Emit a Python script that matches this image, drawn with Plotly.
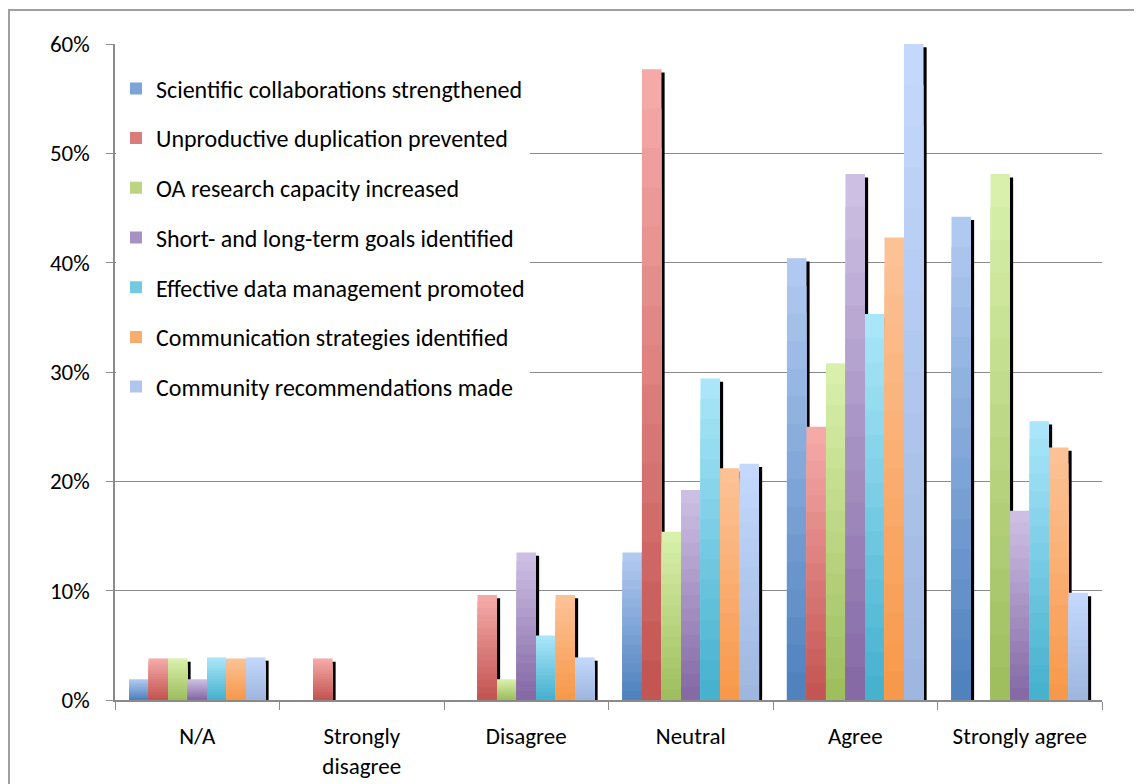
import plotly.graph_objects as go

categories = ["N/A", "Strongly disagree", "Disagree", "Neutral", "Agree", "Strongly agree"]
tick_labels = ["N/A", "Strongly<br>disagree", "Disagree", "Neutral", "Agree", "Strongly agree"]

series_names = [
    "Scientific collaborations strengthened",
    "Unproductive duplication prevented",
    "OA research capacity increased",
    "Short- and long-term goals identified",
    "Effective data management promoted",
    "Communication strategies identified",
    "Community recommendations made",
]

scientific = [1.9, 0, 0, 13.5, 40.4, 44.2]
unproductive = [3.8, 3.8, 9.6, 57.7, 25.0, 0]
oa_capacity = [3.8, 0, 1.9, 15.4, 30.8, 48.1]
goals = [1.9, 0, 13.5, 19.2, 48.1, 17.3]
data_mgmt = [3.9, 0, 5.9, 29.4, 35.3, 25.5]
communication = [3.8, 0, 9.6, 21.2, 42.3, 23.1]
community = [3.9, 0, 3.9, 21.6, 60.0, 9.8]

series_values = [scientific, unproductive, oa_capacity, goals, data_mgmt, communication, community]

# (top colour, bottom colour) for the vertical gradient of each series
top_colors = ["#b0c9f0", "#f5aaa8", "#d8f0ab", "#cdbfe3", "#a9e6f9", "#fcc296", "#c3d8fc"]
bottom_colors = ["#4a7ebb", "#c0504d", "#9bbb59", "#8064a2", "#40aecb", "#f79646", "#9db5de"]

FONT = "Carlito, Lato, sans-serif"
N_STEPS = 16
GROUP = 0.83
W = GROUP / len(series_names)
SHADOW_DX = 0.019
SHADOW_DY = 0.3


def hex2rgb(h):
    h = h.lstrip("#")
    return tuple(int(h[i:i + 2], 16) for i in (0, 2, 4))


def mix(c1, c2, t):
    a, b = hex2rgb(c1), hex2rgb(c2)
    return "rgb(%d,%d,%d)" % tuple(round(a[i] + (b[i] - a[i]) * t) for i in range(3))


fig = go.Figure()

# shadows first (behind all bars)
for j, vals in enumerate(series_values):
    off = -GROUP / 2 + j * W
    fig.add_trace(go.Bar(
        x=categories,
        y=[max(v - SHADOW_DY, 0) if v > 0 else 0 for v in vals],
        offset=off + SHADOW_DX, width=W,
        marker=dict(color="black", line=dict(width=0)),
        showlegend=False, hoverinfo="skip", legendgroup=series_names[j],
    ))

# gradient bars
for j, vals in enumerate(series_values):
    off = -GROUP / 2 + j * W
    for k in range(N_STEPS, 0, -1):
        frac = k / N_STEPS
        t = 1 - frac  # 0 at top (light), 1 at bottom (dark)
        show = (k == N_STEPS // 2)
        fig.add_trace(go.Bar(
            x=categories,
            y=[v * frac for v in vals],
            offset=off, width=W,
            marker=dict(color=mix(top_colors[j], bottom_colors[j], t), line=dict(width=0)),
            name=series_names[j], legendgroup=series_names[j],
            showlegend=show, hoverinfo="skip" if not show else None,
        ))

fig.update_layout(
    width=1142, height=784,
    margin=dict(l=107, r=48, t=36, b=90),
    paper_bgcolor="white", plot_bgcolor="white",
    barmode="overlay",
    font=dict(family=FONT, size=23, color="black"),
    legend=dict(
        x=0.001, y=0.966, xanchor="left", yanchor="top",
        bgcolor="white", font=dict(family=FONT, size=24, color="black"),
        traceorder="grouped", tracegroupgap=15.5,
        itemclick=False,
    ),
    showlegend=True,
)

fig.update_xaxes(
    type="category", categoryorder="array", categoryarray=categories,
    tickvals=categories, ticktext=tick_labels,
    tickson="boundaries", ticks="outside", ticklen=8, tickcolor="#8a8a8a",
    ticklabelstandoff=15,
    showline=True, linecolor="#8a8a8a", linewidth=1.5,
    showgrid=False, range=[-0.5, 5.5],
    tickfont=dict(family=FONT, size=23, color="black"),
)
fig.update_yaxes(
    range=[0, 60], dtick=10, ticksuffix="%",
    ticks="outside", ticklen=7, tickcolor="#8a8a8a",
    ticklabelstandoff=12,
    showline=True, linecolor="#8a8a8a", linewidth=1.5,
    showgrid=True, gridcolor="#8a8a8a", gridwidth=1.2,
    zeroline=False,
    tickfont=dict(family=FONT, size=23, color="black"),
)

# outer chart border
fig.add_shape(type="rect", xref="paper", yref="paper",
              x0=-0.1074, x1=1.06, y0=-0.14, y1=1.052,
              line=dict(color="#a0a0a0", width=2), layer="below")

fig.write_html("out.html")
